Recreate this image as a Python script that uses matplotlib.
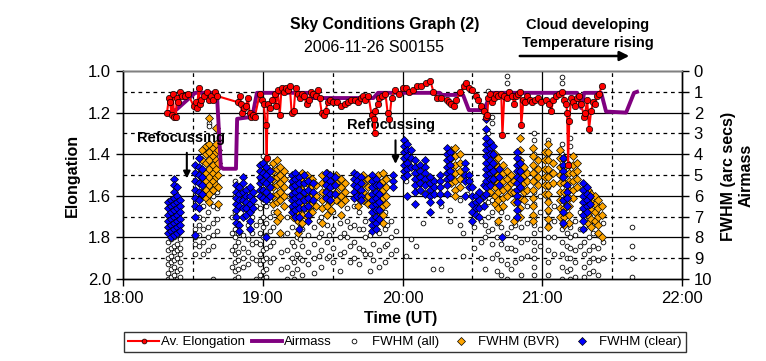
import matplotlib
matplotlib.use("Agg")
import matplotlib.pyplot as plt
from matplotlib.lines import Line2D

plt.rcParams['font.family'] = ['Liberation Sans', 'DejaVu Sans']

## Data (time in minutes after 18:00 UT)
elong_pts = [
    (18.9, 1.20), (19.7, 1.13), (20.1, 1.15), (21.0, 1.21), (21.4, 1.11), (21.9, 1.22),
    (22.7, 1.22), (23.1, 1.13), (23.6, 1.15), (24.4, 1.10), (25.3, 1.12), (26.6, 1.12),
    (27.9, 1.11), (30.4, 1.17), (31.3, 1.15), (31.7, 1.18), (32.6, 1.08), (33.0, 1.16),
    (33.4, 1.14), (34.7, 1.12), (36.0, 1.10), (36.9, 1.14), (37.7, 1.12), (38.6, 1.14),
    (39.4, 1.10), (40.3, 1.12), (49.3, 1.15), (50.1, 1.12), (50.6, 1.16), (51.0, 1.20),
    (51.9, 1.18), (52.7, 1.17), (53.6, 1.13), (54.4, 1.20), (54.9, 1.22), (55.7, 1.21),
    (56.6, 1.22), (58.7, 1.11), (59.6, 1.14), (60.4, 1.16), (61.3, 1.26), (61.7, 1.42),
    (62.1, 1.16), (63.0, 1.18), (63.9, 1.14), (65.1, 1.11), (65.6, 1.17), (66.4, 1.09),
    (67.3, 1.21), (68.1, 1.08), (69.0, 1.10), (69.9, 1.08), (70.7, 1.09), (71.6, 1.07),
    (72.4, 1.20), (73.3, 1.19), (74.1, 1.08), (75.0, 1.11), (75.9, 1.13), (76.7, 1.11),
    (77.6, 1.12), (78.9, 1.16), (79.7, 1.14), (80.6, 1.10), (81.4, 1.11), (82.7, 1.12),
    (83.6, 1.09), (84.4, 1.13), (85.3, 1.20), (86.1, 1.21), (87.0, 1.19), (87.9, 1.15),
    (88.7, 1.14), (90.0, 1.15), (91.7, 1.15), (93.4, 1.17), (95.1, 1.16), (96.4, 1.15),
    (98.1, 1.14), (99.4, 1.14), (100.7, 1.15), (102.0, 1.13), (102.9, 1.12), (104.1, 1.14),
    (105.4, 1.12), (106.7, 1.21), (107.6, 1.23), (108.0, 1.30), (108.4, 1.19), (109.3, 1.16),
    (110.1, 1.13), (111.4, 1.12), (112.7, 1.11), (113.6, 1.20), (114.4, 1.23), (115.3, 1.13),
    (116.6, 1.09), (118.7, 1.11), (120.4, 1.08), (121.3, 1.08), (123.0, 1.10), (124.7, 1.09),
    (126.4, 1.07), (128.1, 1.07), (129.9, 1.06), (132.0, 1.05), (133.3, 1.10), (135.0, 1.13),
    (136.7, 1.13), (138.9, 1.14), (140.1, 1.15), (141.0, 1.16), (142.3, 1.17), (143.1, 1.14),
    (144.9, 1.10), (146.6, 1.07), (147.4, 1.06), (148.7, 1.08), (150.0, 1.09), (151.7, 1.12),
    (152.6, 1.14), (153.9, 1.17), (155.1, 1.19), (156.0, 1.22), (156.4, 1.21), (156.9, 1.13),
    (157.7, 1.11), (158.6, 1.15), (159.4, 1.13), (160.3, 1.11), (161.1, 1.12), (162.4, 1.11),
    (162.9, 1.31), (163.7, 1.12), (165.0, 1.13), (165.9, 1.10), (167.1, 1.12), (168.0, 1.16),
    (168.9, 1.12), (169.7, 1.11), (170.6, 1.10), (171.0, 1.26), (171.9, 1.14), (172.7, 1.15),
    (173.6, 1.12), (174.9, 1.14), (175.7, 1.15), (177.0, 1.14), (178.3, 1.13), (179.6, 1.15),
    (181.7, 1.14), (183.0, 1.16), (183.9, 1.19), (184.7, 1.14), (186.0, 1.12), (187.3, 1.11),
    (188.6, 1.10), (189.4, 1.14), (190.3, 1.16), (190.7, 1.20), (191.1, 1.45), (191.6, 1.24),
    (192.4, 1.13), (193.3, 1.15), (194.1, 1.17), (195.0, 1.13), (195.9, 1.12), (196.7, 1.16),
    (198.0, 1.22), (198.4, 1.20), (199.3, 1.14), (200.1, 1.28), (201.0, 1.19), (201.9, 1.15),
    (202.7, 1.16), (203.6, 1.12), (204.4, 1.11), (205.7, 1.07),
]

airmass_pts = [
    (19.3, 2.0), (23.0, 1.85), (31.0, 1.05), (40.3, 1.05), (42.0, 4.6), (43.0, 4.7),
    (48.5, 4.7), (49.0, 2.3), (55.5, 2.2), (57.5, 1.05), (80.5, 1.05), (81.5, 1.3),
    (107.5, 1.3), (109.5, 1.05), (136.0, 1.05), (136.5, 1.15), (146.0, 1.15), (148.5, 1.88),
    (155.0, 1.88), (158.0, 1.05), (195.0, 1.05), (196.7, 1.78), (198.0, 1.05), (205.3, 1.05),
    (207.4, 1.95), (216.0, 2.0), (219.4, 1.05), (220.7, 1.0),
]

fwhm_all = [
    (19.3, [8.2, 8.6, 9.0, 9.3, 9.7, 10.0]), (20.5, [7.8, 8.1, 8.5, 8.9, 9.2, 9.5, 9.9]),
    (21.8, [8.0, 8.4, 8.7, 9.1, 9.4, 9.8]), (23.0, [7.9, 8.3, 8.6, 9.0, 9.6, 10.0]),
    (24.4, [8.1, 8.5, 8.8, 9.2, 9.5, 9.9]),
    (31.0, [7.6, 8.0, 8.3, 8.8]), (32.5, [5.8, 6.2, 6.6, 7.0, 7.4, 7.9, 8.4]),
    (34.5, [6.0, 6.5, 7.1, 7.6, 8.2, 8.8]), (36.5, [5.5, 6.2, 6.8, 7.5, 8.0, 8.6]),
    (37.0, [2.5, 2.65]), (38.5, [4.0, 6.0, 6.5, 7.3, 7.9, 8.4, 10.0]), (40.5, [5.0, 5.8, 6.6, 7.1, 7.7]),
    (47.0, [7.0, 7.8, 8.6, 9.4]),
    (48.0, [5.3, 6.0, 6.8, 7.6, 8.0, 8.4, 8.8, 9.2, 9.6, 10.0]),
    (49.5, [5.6, 6.4, 7.3, 7.8, 8.2, 8.7, 9.1, 9.5, 9.9]), (51.5, [6.1, 7.0, 7.9, 8.5, 9.0, 9.4]),
    (53.5, [6.5, 7.4, 8.1, 8.7, 9.3]), (55.5, [6.0, 7.0, 7.8, 8.3, 9.0]),
    (57.0, [6.5, 7.4, 8.2, 9.1, 10.0]),
    (58.7, [4.5, 5.2, 6.0, 6.6, 7.2, 7.8, 8.3, 8.8, 9.3, 9.8]),
    (60.0, [4.1, 4.8, 5.5, 6.3, 7.0, 7.5, 8.0, 8.6, 9.1, 9.6, 10.0]),
    (61.5, [4.3, 5.0, 5.8, 6.5, 7.3, 7.9, 8.5, 9.0, 9.5, 9.9]),
    (63.0, [4.6, 5.4, 6.2, 7.0, 7.7, 8.4, 9.2]), (64.5, [6.8, 7.5, 8.2, 9.0]),
    (68.0, [7.9, 8.7, 9.5]),
    (70.5, [5.0, 6.0, 7.0, 7.8, 8.6, 9.4, 10.0]), (72.5, [5.5, 6.6, 7.5, 8.2, 9.0, 9.7]),
    (73.5, [8.4, 9.2, 10.0]), (74.5, [6.2, 7.2, 8.0, 8.8, 9.5]), (76.0, [7.3, 8.1, 9.0]),
    (77.0, [6.8, 7.6, 8.4, 9.1, 9.8]),
    (79.5, [7.0, 7.9, 8.7, 9.3]), (82.0, [6.5, 7.5, 8.3, 9.0, 9.7]), (84.0, [7.2, 8.0, 8.9]),
    (85.0, [6.0, 7.0, 7.8, 8.6, 9.4]), (87.5, [5.5, 6.5, 7.4, 8.2, 9.0]), (88.5, [7.9, 8.9]),
    (90.0, [6.8, 7.6, 8.5, 9.2]), (93.0, [6.3, 7.3, 8.0, 8.8, 9.6]), (95.0, [7.8, 8.7]),
    (96.0, [6.6, 7.2, 8.0]), (97.5, [7.5, 8.4, 9.2]),
    (99.0, [6.5, 7.4, 8.2, 9.0]), (101.5, [6.8, 7.6, 8.5, 9.3]), (103.0, [7.6, 8.6]),
    (104.0, [6.3, 7.2, 8.0, 8.8]), (106.0, [7.9, 8.8, 9.6]),
    (107.5, [6.5, 7.4, 8.3, 9.1]), (110.0, [7.0, 7.8, 8.6, 9.4]), (112.5, [6.8, 7.6, 8.4, 9.2]),
    (113.5, [7.4, 8.3]), (115.0, [7.2, 8.0, 8.8]), (117.0, [7.7, 8.6]),
    (121.5, [5.3, 8.9]), (123.5, [8.1]), (126.0, [8.4]), (129.0, [7.3]),
    (133.0, [9.5]), (136.5, [6.5, 9.5]), (140.5, [6.7, 7.2]), (144.5, [6.2, 7.4]), (146.0, [7.8, 8.9]),
    (147.5, [5.2, 5.9]), (150.5, [7.5, 8.5]), (153.5, [7.2, 8.2, 9.0]), (155.5, [6.2, 7.4, 8.0, 9.5]),
    (156.5, [0.95, 3.0, 4.5, 6.3, 7.0, 7.7]), (158.5, [2.2, 2.5, 6.2, 6.8, 7.6, 8.3, 9.0]),
    (160.5, [6.5, 7.3, 8.0, 8.8, 9.6]), (162.5, [6.8, 7.5, 8.3, 9.1, 9.8]),
    (165.0, [0.25, 0.6, 7.0, 7.8, 8.5, 9.3, 10.0]), (166.5, [7.5, 8.5, 9.5]),
    (168.5, [7.4, 8.0, 8.6, 9.2]), (171.0, [7.5, 8.2, 9.0, 9.8]), (173.5, [6.5, 7.3, 8.1, 8.9]),
    (176.5, [3.0, 3.3, 4.0, 4.6, 5.2, 5.8, 6.4, 7.0, 7.4, 7.8, 8.2, 8.6, 9.0, 9.4, 9.8]),
    (179.0, [6.0, 6.8, 7.6, 8.4]),
    (182.5, [3.3, 4.0, 4.8, 5.6, 6.2, 6.8, 7.4, 8.0, 8.6, 9.2, 9.8]), (185.0, [6.5, 7.2, 8.0, 8.8]),
    (188.6, [0.3, 0.6, 3.5, 4.0, 5.0, 6.0, 7.0, 7.6, 8.2, 8.8, 9.4, 10.0]),
    (190.5, [7.8, 8.4, 9.0, 9.6]), (192.0, [3.2, 3.6, 7.5, 8.0, 8.5, 9.0, 9.5, 10.0]),
    (194.0, [7.2, 7.9, 8.6, 9.2, 9.9]), (196.0, [6.8, 7.6, 8.4]),
    (198.0, [7.0, 7.6, 8.2, 8.8, 9.4, 9.9]), (200.0, [7.4, 8.0, 8.6, 9.2, 9.7]),
    (202.0, [7.2, 7.8, 8.4, 9.0, 9.6]), (204.0, [7.9, 8.5, 9.1, 9.8]), (206.0, [7.3, 8.2, 9.0]),
    (218.6, [7.5, 8.4, 9.0, 9.9]),
]

fwhm_bvr = [
    (34.0, [3.8, 4.3, 4.8, 5.3, 5.8]), (35.5, [3.6, 4.0, 4.4, 4.9, 5.3, 5.7, 6.1]),
    (37.0, [2.26, 3.5, 3.9, 4.3, 4.7, 5.1, 5.5, 5.9, 6.3]), (38.5, [3.7, 4.1, 4.5, 4.9, 5.3, 5.7]),
    (39.9, [2.74, 3.5, 3.9, 4.3, 4.7, 5.1, 5.5]), (41.0, [3.8, 4.4, 5.0, 5.6, 6.4]),
    (64.5, [4.4, 4.8, 5.2, 5.6, 6.0, 6.4]), (66.0, [4.3, 4.7, 5.1, 5.5, 5.9, 6.3, 6.8, 7.2]),
    (67.5, [4.6, 5.0, 5.4, 5.8, 6.2, 7.0, 7.8]), (69.0, [4.8, 5.2, 5.6, 6.0, 6.5]),
    (73.0, [5.5, 6.0, 6.5, 7.0]), (75.0, [5.2, 5.6, 6.0, 6.4, 6.8, 7.2, 7.8]),
    (77.0, [4.9, 5.3, 5.7, 6.1, 6.5, 6.9, 7.3]), (79.0, [5.0, 5.4, 5.8, 6.2, 6.6, 7.0]),
    (81.0, [5.2, 5.6, 6.0, 6.4, 6.8]), (83.0, [5.5, 6.0, 6.5]),
    (85.5, [5.0, 5.4, 5.8, 6.2, 6.6, 7.3]), (87.5, [4.9, 5.3, 5.7, 6.1, 6.5, 6.9]),
    (89.5, [5.1, 5.5, 5.9, 6.3, 6.7]), (91.5, [5.0, 5.4, 5.8, 6.2]),
    (93.5, [5.2, 5.6, 6.0, 6.4, 6.9]), (95.5, [5.4, 5.8, 6.2]),
    (101.0, [5.3, 5.7, 6.1, 6.5]), (103.0, [5.0, 5.4, 5.8, 6.2]), (105.0, [5.2, 5.6, 6.0, 6.4]),
    (109.5, [5.0, 5.4, 5.8, 6.2, 6.6, 7.0]), (111.5, [4.9, 5.3, 5.7, 6.1, 6.5, 6.9, 7.3]),
    (113.0, [5.2, 5.6, 6.0, 6.4]),
    (141.0, [3.8, 4.2, 4.6, 5.0, 5.4]), (142.5, [3.7, 4.1, 4.5, 4.9, 5.3, 5.7, 6.0]),
    (144.5, [4.0, 4.4, 4.8, 5.2, 5.6]),
    (157.5, [3.8, 4.2, 4.6, 5.0, 5.4, 5.8]), (159.5, [4.0, 4.4, 4.8, 5.2, 5.6, 6.0, 6.4]),
    (161.0, [4.2, 4.6, 5.0, 5.4, 5.8, 6.2, 6.6, 7.2]), (163.0, [4.5, 4.9, 5.3, 5.7, 6.1, 6.5]),
    (165.0, [4.8, 5.2, 5.6, 6.0]), (166.5, [5.0, 5.4, 5.8]),
    (168.0, [5.3, 5.8, 6.3, 7.2]), (170.5, [3.2, 3.8, 4.3, 6.1, 6.6, 7.0]),
    (172.0, [4.6, 5.0, 5.4, 5.8, 6.2]), (173.5, [4.9, 5.3, 5.7]),
    (176.0, [3.7, 4.1, 4.5, 4.9, 5.3, 5.7, 6.1, 6.5, 6.9, 7.2]), (178.0, [4.3, 4.7, 5.1, 5.5]),
    (181.0, [3.9, 4.3, 4.7, 5.1, 5.5, 5.9]),
    (182.5, [3.5, 3.9, 4.3, 4.7, 5.1, 5.5, 5.9, 6.3, 6.7, 7.1, 7.5]), (184.5, [4.4, 4.9, 5.4]),
    (187.5, [3.8, 4.2, 4.6, 5.0, 5.4, 5.8, 6.2, 6.6, 7.0]),
    (189.5, [4.2, 4.6, 5.0, 5.4, 5.8, 6.2, 6.6, 7.0, 7.4]),
    (191.5, [4.5, 4.9, 5.3, 5.7, 6.1, 6.5, 6.9, 7.3]), (193.0, [4.1, 4.5, 4.9, 5.3, 5.7, 6.1]),
    (195.0, [4.4, 4.8, 5.2, 5.6]),
    (199.5, [5.7, 6.1, 6.5, 6.9, 7.3]), (201.0, [5.9, 6.3, 6.7, 7.1, 7.5]),
    (202.5, [6.0, 6.4, 6.8, 7.2]), (204.0, [6.2, 6.6, 7.0, 7.4, 7.8]), (205.5, [6.5, 6.9, 8.0]),
]

fwhm_clear = [
    (19.3, [6.3, 6.6, 6.9, 7.2, 7.5, 7.8]), (20.5, [6.2, 6.5, 6.8, 7.1, 7.4, 7.7, 8.0]),
    (21.8, [5.2, 5.5, 5.8, 6.1, 6.4, 6.7, 7.0, 7.3, 7.6, 7.9]),
    (23.0, [5.6, 6.0, 6.3, 6.6, 6.9, 7.2, 7.5, 7.8]), (24.4, [6.2, 6.5, 6.8, 7.1, 7.4, 7.7]),
    (31.0, [4.5, 4.9, 5.3, 5.7, 6.1, 6.5, 7.0, 7.9]), (32.5, [4.2, 4.6, 5.0, 5.4, 5.8, 6.2, 6.6]),
    (34.0, [4.7, 5.1, 5.5, 5.9]),
    (48.5, [5.5, 5.8, 6.1, 6.4, 6.7, 7.0, 7.3]), (50.0, [5.6, 5.9, 6.2, 6.5, 7.4, 7.7]),
    (51.5, [5.1, 5.4, 5.8, 6.2, 6.6, 7.0]), (53.0, [5.7, 6.0, 6.3, 6.6, 6.9]),
    (54.5, [5.6, 6.0, 6.4, 6.8, 7.2, 7.6]), (56.0, [5.8, 6.2, 6.6]),
    (58.7, [4.5, 4.8, 5.1, 5.4, 5.7, 6.0]), (60.0, [4.4, 4.9, 5.3, 5.7, 6.1]),
    (61.5, [4.6, 5.0, 5.4, 5.8, 6.2, 8.0]), (63.0, [4.8, 5.2, 5.6, 6.0]),
    (72.5, [5.0, 5.3, 5.6, 5.9, 6.2, 6.5, 6.8]), (74.0, [4.9, 5.2, 5.5, 5.8, 6.1, 6.4, 6.7, 7.0]),
    (75.5, [5.1, 5.4, 5.7, 6.0, 6.3, 6.6, 7.0, 7.6]), (77.5, [5.0, 5.4, 5.8, 6.2, 6.6]),
    (79.5, [5.3, 5.7, 6.1, 6.5, 6.9, 7.2]), (81.5, [5.4, 5.8, 6.2]),
    (87.0, [4.9, 5.2, 5.5, 5.8, 6.1]), (89.0, [5.0, 5.3, 5.6, 5.9, 6.2]), (91.0, [5.1, 5.5, 5.9]),
    (99.0, [4.9, 5.2, 5.5, 5.8, 6.1]), (100.5, [5.0, 5.3, 5.6, 6.0]),
    (102.0, [5.1, 5.4, 5.7, 6.0, 6.2]),
    (107.0, [5.0, 5.3, 5.6, 5.9, 6.2, 6.5, 6.8, 7.1, 7.4, 7.7]),
    (108.5, [5.2, 5.5, 5.8, 6.1, 6.4, 6.7, 7.0, 7.3, 7.6]), (110.0, [5.5, 5.9, 6.3, 6.7, 7.1]),
    (116.0, [5.0, 5.3, 5.6]),
    (120.5, [3.3, 3.6, 3.9, 4.2, 4.5, 4.8, 5.1]), (122.0, [3.5, 3.8, 4.1, 4.4, 4.7, 5.0, 6.0]),
    (123.5, [3.8, 4.2, 4.6]),
    (125.5, [4.3, 4.6, 4.9, 5.2, 5.5, 5.8, 6.4]), (127.5, [4.5, 4.8, 5.1, 5.4, 5.7]),
    (129.5, [4.3, 4.6, 4.9, 5.2, 5.5, 5.9]),
    (132.0, [5.1, 5.4, 5.7, 6.0, 6.3, 6.8]), (133.5, [5.3, 5.6, 5.9]),
    (136.0, [5.0, 5.3, 5.6, 5.9, 6.3]),
    (139.0, [3.7, 4.0, 4.3, 4.6, 4.9, 5.2, 5.5, 5.9]), (140.5, [3.9, 4.2, 4.5, 4.8, 5.1]),
    (147.0, [4.4, 4.7, 5.0, 5.3, 6.0]), (148.5, [5.0, 5.3, 5.6]),
    (150.0, [5.6, 6.0, 6.4, 6.8, 7.2]), (151.5, [6.0, 6.3, 6.6, 6.9]),
    (153.0, [5.8, 6.2, 6.6, 7.0]), (155.0, [5.5, 6.0, 6.5]),
    (156.0, [2.3, 2.8, 3.2, 3.5, 3.8, 4.1, 4.4, 4.7, 5.0, 5.3, 5.6, 5.9]),
    (157.5, [3.4, 3.7, 4.0, 4.3, 4.6, 4.9, 5.2, 5.5]), (159.0, [3.6, 4.0, 4.4, 4.8, 5.2]),
    (161.5, [4.7, 5.1, 5.5]), (162.9, [8.0]),
    (169.0, [3.9, 4.2, 4.5, 4.8, 5.1, 5.4, 5.7, 6.0, 6.3, 6.7, 7.0]), (170.5, [4.4, 4.8, 5.2, 5.6]),
    (189.0, [4.2, 4.5, 4.8, 5.1, 6.2, 6.8, 7.3]), (190.5, [5.5, 5.8, 6.1, 6.5]),
    (197.5, [5.4, 5.7, 6.0, 6.3, 6.6, 6.9, 7.2, 7.6]), (199.0, [5.6, 5.9, 6.2, 6.5, 6.8]),
    (200.5, [6.0, 6.4]),
]

hour_ticks = [0, 60, 120, 180, 240]
hour_labels = ['18:00', '19:00', '20:00', '21:00', '22:00']


def flatten(cols):
    xs, ys = [], []
    for t, vals in cols:
        xs.extend([t] * len(vals))
        ys.extend(vals)
    return xs, ys


W, H = 766, 361
fig = plt.figure(figsize=(W / 100, H / 100), dpi=100)
ax = fig.add_axes([123 / W, 82 / H, 559 / W, 208 / H])
ax2 = ax.twinx()
ax.set_zorder(ax2.get_zorder() + 1)
ax.patch.set_visible(False)
ax2.set_facecolor('#c0c0c0')

ax.set_xlim(0, 240)
ax.set_ylim(2.0, 1.0)
ax2.set_ylim(10, 0)

# grid
for v in range(1, 10):
    ax2.axhline(v, color='black', lw=0.9, ls='-' if v % 2 == 0 else (0, (3, 3)), zorder=0.5)
for m in [30, 60, 90, 120, 150, 180, 210]:
    ax2.axvline(m, color='black', lw=0.9, ls='-' if m % 60 == 0 else (0, (3, 3)), zorder=0.5)

xs, ys = flatten(fwhm_all)
ax2.plot(xs, ys, 'o', ms=3.4, mfc='white', mec='black', mew=0.6, ls='none', zorder=2)
xs, ys = flatten(fwhm_bvr)
ax2.plot(xs, ys, 'D', ms=4.0, mfc='#ffa500', mec='black', mew=0.5, ls='none', zorder=3)
xs, ys = flatten(fwhm_clear)
ax2.plot(xs, ys, 'D', ms=4.0, mfc='#0000ff', mec='black', mew=0.5, ls='none', zorder=4)

am_t = [p[0] for p in airmass_pts]
am_v = [p[1] for p in airmass_pts]
ax2.plot(am_t, am_v, color='#800080', lw=2.8, zorder=5)

el_t = [p[0] for p in elong_pts]
el_v = [p[1] for p in elong_pts]
ax.plot(el_t, el_v, '-o', color='red', lw=1.5, ms=4.6, mfc='red', mec='black', mew=0.5, zorder=6)

# ticks
ax.set_xticks(hour_ticks)
ax.set_xticklabels(hour_labels)
ax.set_yticks([1.0, 1.2, 1.4, 1.6, 1.8, 2.0])
ax.set_yticklabels(['%.1f' % v for v in [1.0, 1.2, 1.4, 1.6, 1.8, 2.0]])
ax2.set_yticks(range(11))
for a in (ax, ax2):
    a.tick_params(direction='out', length=5, width=1, labelsize=12, colors='black')
    for s in a.spines.values():
        s.set_color('black')
        s.set_linewidth(1)
ax.spines['top'].set_color('#808080')

# annotations
ax2.text(6, 3.2, 'Refocussing', fontsize=10.5, fontweight='bold', va='center', zorder=7)
ax2.annotate('', xy=(27.4, 5.3), xytext=(27.4, 3.8),
             arrowprops=dict(arrowstyle='-|>', color='black', lw=1.5, mutation_scale=10), zorder=7)
ax2.text(96, 2.6, 'Refocussing', fontsize=10.5, fontweight='bold', va='center', zorder=7)
ax2.annotate('', xy=(117, 4.6), xytext=(117, 3.2),
             arrowprops=dict(arrowstyle='-|>', color='black', lw=1.5, mutation_scale=10), zorder=7)

fig.text(385 / W, 1 - 25 / H, 'Sky Conditions Graph (2)', ha='center', va='center',
         fontsize=11.3, fontweight='bold')
fig.text(374 / W, 1 - 48 / H, '2006-11-26 S00155', ha='center', va='center', fontsize=11.5)
fig.text(588 / W, 1 - 25 / H, 'Cloud developing', ha='center', va='center',
         fontsize=10.5, fontweight='bold')
fig.text(588 / W, 1 - 43 / H, 'Temperature rising', ha='center', va='center',
         fontsize=10.5, fontweight='bold')
ax.annotate('', xy=(632 / W, 1 - 56 / H), xytext=(517 / W, 1 - 56 / H),
            xycoords='figure fraction', textcoords='figure fraction', annotation_clip=False,
            arrowprops=dict(arrowstyle='-|>', color='black', lw=1.8, mutation_scale=14))

fig.text(72 / W, 1 - 175 / H, 'Elongation', rotation=90, ha='center', va='center',
         fontsize=11.5, fontweight='bold')
fig.text(729 / W, 1 - 176 / H, 'FWHM (arc secs)', rotation=90, ha='center', va='center',
         fontsize=11.5, fontweight='bold')
fig.text(746 / W, 1 - 175 / H, 'Airmass', rotation=90, ha='center', va='center',
         fontsize=11.5, fontweight='bold')
fig.text(401 / W, 1 - 318 / H, 'Time (UT)', ha='center', va='center',
         fontsize=11.5, fontweight='bold')

handles = [
    Line2D([], [], color='red', lw=1.5, marker='o', ms=3.5, mfc='red', mec='black', mew=0.5),
    Line2D([], [], color='#800080', lw=2.8),
    Line2D([], [], ls='none', marker='o', ms=3.4, mfc='white', mec='black', mew=0.6),
    Line2D([], [], ls='none', marker='D', ms=4.0, mfc='#ffa500', mec='black', mew=0.5),
    Line2D([], [], ls='none', marker='D', ms=4.0, mfc='#0000ff', mec='black', mew=0.5),
]
labels = ['Av. Elongation', 'Airmass', 'FWHM (all)', 'FWHM (BVR)', 'FWHM (clear)']
leg = fig.legend(handles, labels, loc='center', bbox_to_anchor=(405 / W, 1 - 342 / H), ncol=5,
                 fontsize=9.5, frameon=True, fancybox=False, edgecolor='black',
                 handlelength=2.3, handletextpad=0.15, columnspacing=0.55, borderpad=0.3,
                 borderaxespad=0)
leg.get_frame().set_linewidth(1)

fig.savefig('out.png', dpi=100)
